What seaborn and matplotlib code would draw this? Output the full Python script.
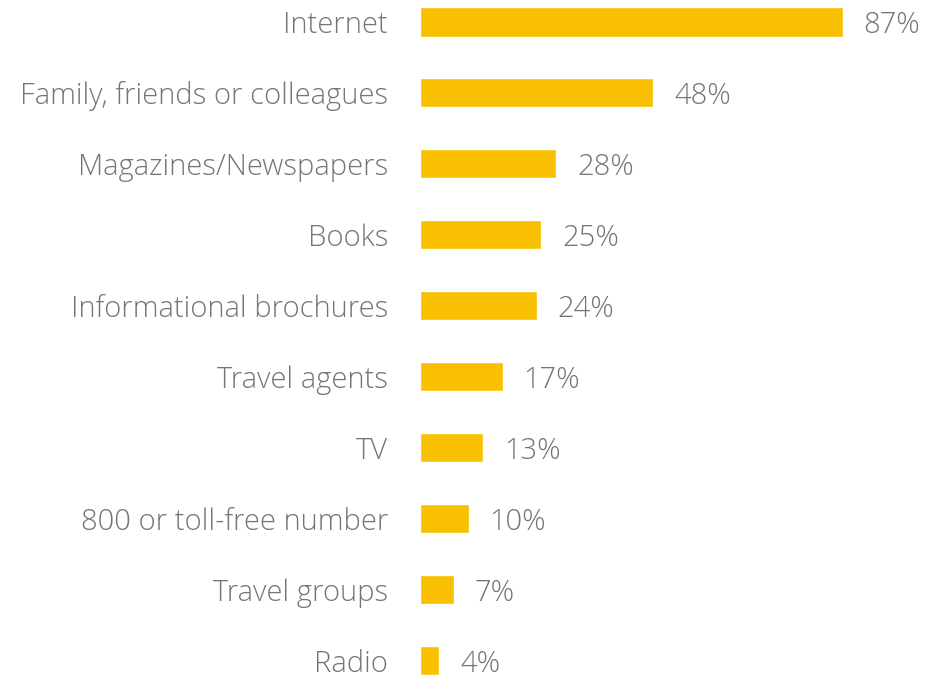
import matplotlib
matplotlib.use("Agg")
import matplotlib.pyplot as plt
import seaborn as sns
import pandas as pd

sources = [
    "Internet",
    "Family, friends or colleagues",
    "Magazines/Newspapers",
    "Books",
    "Informational brochures",
    "Travel agents",
    "TV",
    "800 or toll-free number",
    "Travel groups",
    "Radio",
]
shares = [87, 48, 28, 25, 24, 17, 13, 10, 7, 4]

df = pd.DataFrame({"source": sources, "share": shares})

sns.set_theme(style="white")
plt.rcParams["font.family"] = ["Open Sans", "DejaVu Sans"]

BAR = "#F8C000"
TEXT = "#757575"
FS = 21

fig = plt.figure(figsize=(9.38, 6.76), dpi=100)
ax = fig.add_axes([420 / 938, 0, 518 / 938, 1])

sns.barplot(data=df, x="share", y="source", orient="h", color=BAR,
            saturation=1, width=0.41, ax=ax)

ax.set_xlim(0, 106.6)
ax.set_ylim(9.22, -0.31)

for i, v in enumerate(shares):
    ax.annotate(f"{v}%", xy=(v, i), xytext=(15, 0), textcoords="offset points",
                ha="left", va="center_baseline", fontsize=FS, color=TEXT,
                fontweight="light")

ax.set_xlabel("")
ax.set_ylabel("")
ax.set_xticks([])
ax.tick_params(axis="y", length=0, pad=23, labelsize=FS, labelcolor=TEXT)
for lbl in ax.get_yticklabels():
    lbl.set_fontweight("light")
    lbl.set_verticalalignment("center_baseline")
sns.despine(ax=ax, left=True, bottom=True)

fig.savefig("out.png", dpi=100)
